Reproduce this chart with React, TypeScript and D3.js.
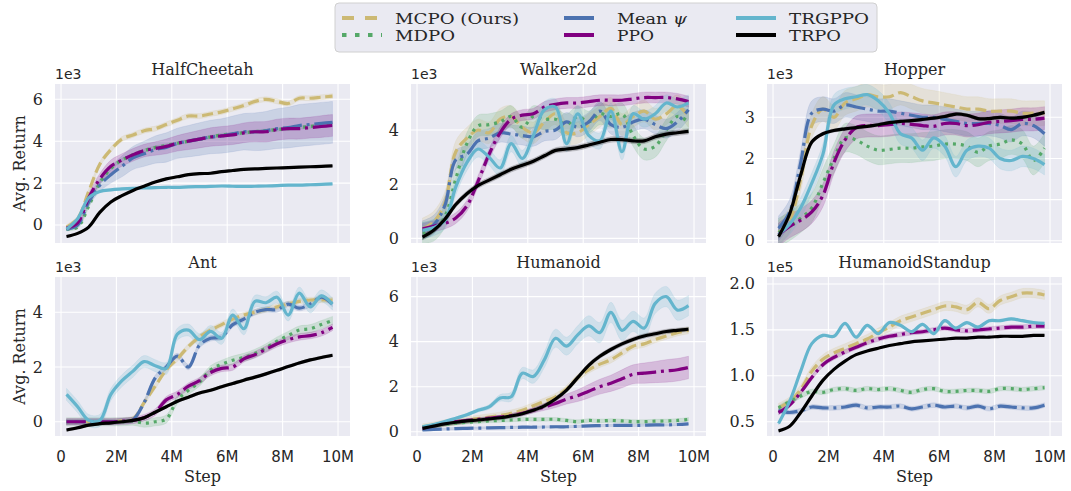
import React from "react";
import * as d3 from "d3";

// training steps (millions) at which every curve is sampled
const steps = [0.2, 0.6, 1.0, 1.4, 1.8, 2.2, 2.6, 3.0, 3.4, 3.8, 4.2, 4.6, 5.0, 5.4, 5.8, 6.2, 6.6, 7.0, 7.4, 7.8, 8.2, 8.6, 9.0, 9.4, 9.8];

const methods = ["MCPO (Ours)", "MDPO", "Mean ψ", "PPO", "TRGPPO", "TRPO"];
const methodColors = ["#ccb974", "#55a868", "#4c72b0", "#800080", "#64b5cd", "#000000"];
const methodDash = ["11.1,4.8", "3,4.95", "19.2,4.8,3,4.8", "19.2,4.8,3,4.8", "", ""];
const legendDash = ["12,11", "4.5,8.5", "30,11", "30,11", "", ""];
const legendTextWidth = [124, 60, 70, 37, 80, 52];

const envNames = ["HalfCheetah", "Walker2d", "Hopper", "Ant", "Humanoid", "HumanoidStandup"];
const envOffset = ["1e3", "1e3", "1e3", "1e3", "1e3", "1e5"];
const envYDomain = [[-0.86, 6.73], [-0.17, 5.7], [-0.055, 3.81], [-0.52, 5.29], [-0.19, 6.87], [0.344, 2.076]];
const envYTicks = [[0, 2, 4, 6], [0, 2, 4], [0, 1, 2, 3], [0, 2, 4], [0, 2, 4, 6], [0.5, 1.0, 1.5, 2.0]];
const xTicks = [0, 2, 4, 6, 8, 10];
const xTickLabels = ["0", "2M", "4M", "6M", "8M", "10M"];

// mean returns, in method order
const halfCheetah = [
  [-0.1, 0.3, 1.6, 2.9, 3.6, 4.1, 4.3, 4.5, 4.6, 4.8, 5.0, 5.2, 5.2, 5.3, 5.4, 5.55, 5.7, 5.9, 6.0, 5.9, 5.8, 6.05, 6.05, 6.1, 6.15],
  [-0.2, -0.1, 0.9, 2.0, 2.7, 3.1, 3.35, 3.55, 3.7, 3.8, 3.9, 4.0, 4.1, 4.2, 4.3, 4.35, 4.4, 4.45, 4.5, 4.55, 4.6, 4.65, 4.7, 4.75, 4.8],
  [-0.2, 0.0, 1.1, 1.9, 2.4, 2.8, 3.2, 3.4, 3.6, 3.7, 3.9, 4.0, 4.1, 4.2, 4.25, 4.35, 4.45, 4.45, 4.5, 4.6, 4.65, 4.75, 4.8, 4.85, 4.9],
  [-0.15, 0.1, 1.3, 2.2, 2.8, 3.1, 3.35, 3.55, 3.65, 3.75, 3.9, 4.0, 4.1, 4.2, 4.25, 4.3, 4.4, 4.45, 4.45, 4.55, 4.6, 4.6, 4.65, 4.7, 4.75],
  [-0.2, 0.3, 1.3, 1.6, 1.68, 1.72, 1.75, 1.77, 1.78, 1.8, 1.8, 1.82, 1.83, 1.84, 1.86, 1.85, 1.84, 1.85, 1.86, 1.88, 1.9, 1.9, 1.92, 1.94, 1.96],
  [-0.55, -0.4, -0.1, 0.6, 1.1, 1.4, 1.65, 1.85, 2.05, 2.2, 2.3, 2.4, 2.45, 2.47, 2.55, 2.6, 2.65, 2.68, 2.7, 2.72, 2.74, 2.76, 2.78, 2.8, 2.82],
];
const halfCheetahSd = [
  0.12, 0.08,
  [0.05, 0.1, 0.2, 0.3, 0.4, 0.5, 0.55, 0.6, 0.65, 0.7, 0.72, 0.75, 0.78, 0.8, 0.82, 0.85, 0.87, 0.9, 0.92, 0.95, 0.97, 1.0, 1.0, 1.0, 1.0],
  [0.05, 0.1, 0.2, 0.25, 0.3, 0.3, 0.3, 0.3, 0.32, 0.35, 0.37, 0.4, 0.42, 0.44, 0.45, 0.46, 0.47, 0.48, 0.49, 0.5, 0.5, 0.5, 0.5, 0.52, 0.52],
  0.05, 0.04,
];

const walker2d = [
  [0.35, 0.6, 1.3, 3.2, 3.7, 4.0, 3.9, 4.4, 4.5, 4.1, 3.9, 4.3, 4.6, 3.9, 3.9, 4.2, 4.5, 4.8, 4.2, 4.5, 4.7, 4.4, 4.6, 4.9, 4.5],
  [0.2, 0.3, 0.8, 2.2, 3.5, 4.15, 4.2, 4.3, 4.5, 4.1, 4.5, 4.4, 4.4, 4.2, 4.5, 4.3, 4.6, 4.5, 4.6, 3.8, 3.3, 3.4, 4.0, 4.5, 4.3],
  [0.3, 0.5, 1.2, 2.9, 3.1, 3.6, 3.7, 3.9, 3.85, 3.8, 3.75, 3.95, 4.0, 4.3, 4.1, 4.3, 4.7, 4.2, 4.1, 4.3, 4.4, 4.2, 4.05, 4.3, 4.75],
  [0.35, 0.45, 0.55, 0.75, 1.2, 2.1, 3.1, 3.9, 4.4, 4.55, 4.6, 4.85, 4.95, 5.0, 5.0, 5.05, 5.1, 5.1, 5.1, 5.15, 5.2, 5.2, 5.2, 5.15, 5.05],
  [0.3, 0.4, 0.65, 1.9, 2.8, 3.3, 3.0, 2.6, 3.5, 2.95, 3.8, 4.75, 4.85, 3.5, 4.6, 3.8, 3.6, 4.7, 3.2, 4.6, 4.4, 4.6, 5.0, 4.85, 5.0],
  [0.05, 0.3, 0.7, 1.25, 1.65, 1.95, 2.15, 2.35, 2.55, 2.7, 2.85, 3.05, 3.25, 3.3, 3.35, 3.45, 3.55, 3.65, 3.65, 3.6, 3.6, 3.75, 3.85, 3.9, 3.95],
];
const walker2dSd = [0.4, 0.4, 0.35, 0.2, 0.3, 0.1];

const hopper = [
  [0.2, 0.5, 1.5, 2.8, 3.2, 3.0, 3.35, 3.45, 3.55, 3.5, 3.5, 3.6, 3.5, 3.4, 3.35, 3.3, 3.25, 3.2, 3.2, 3.15, 3.15, 3.15, 3.1, 3.1, 3.1],
  [0.2, 0.35, 0.55, 0.8, 1.4, 2.0, 2.5, 2.45, 2.3, 2.2, 2.22, 2.25, 2.25, 2.28, 2.3, 2.35, 2.35, 2.3, 2.15, 2.3, 2.35, 2.45, 2.35, 1.95, 2.25],
  [0.3, 0.7, 1.9, 3.1, 3.2, 3.15, 3.3, 3.25, 3.2, 3.15, 3.15, 3.1, 3.05, 3.0, 3.0, 2.95, 2.9, 2.85, 2.85, 2.85, 2.8, 2.7, 2.85, 2.8, 2.6],
  [0.15, 0.35, 0.5, 0.7, 1.1, 1.9, 2.45, 2.75, 2.8, 2.8, 2.82, 2.85, 2.83, 2.8, 2.78, 2.85, 2.85, 2.8, 2.82, 2.88, 2.9, 2.92, 2.95, 2.95, 2.98],
  [0.15, 0.4, 0.8, 1.4, 2.1, 3.3, 3.45, 3.5, 3.55, 3.4, 3.1, 2.6, 2.5, 2.2, 2.5, 2.3, 1.8, 2.2, 2.3, 2.25, 2.0, 1.95, 2.05, 2.0, 1.85],
  [0.1, 0.65, 1.6, 2.4, 2.6, 2.68, 2.72, 2.75, 2.78, 2.82, 2.87, 2.9, 2.92, 2.95, 2.98, 3.02, 3.08, 3.05, 2.97, 2.97, 3.0, 2.98, 3.0, 3.05, 3.12],
];
const hopperSd = [0.3, 0.35, 0.3, 0.28, 0.25, 0.04];

const ant = [
  [0.0, 0.0, 0.0, 0.0, 0.0, 0.03, 0.1, 0.7, 1.3, 1.9, 2.3, 2.75, 3.1, 3.35, 3.55, 3.75, 3.9, 4.0, 4.1, 4.2, 4.3, 4.4, 4.45, 4.45, 4.45],
  [0.0, 0.0, 0.0, 0.0, 0.0, 0.0, 0.02, -0.05, 0.0, 0.1, 0.8, 1.15, 1.45, 1.9, 2.1, 2.25, 2.35, 2.5, 2.7, 2.95, 3.15, 3.35, 3.4, 3.55, 3.7],
  [0.0, 0.0, 0.0, 0.0, 0.0, 0.02, 0.08, 0.7, 1.6, 2.0, 2.4, 2.0, 2.8, 3.05, 3.1, 3.55, 3.75, 4.0, 4.1, 4.1, 4.3, 4.15, 4.3, 4.55, 4.3],
  [0.0, 0.0, 0.0, 0.0, 0.0, 0.02, 0.05, 0.15, 0.35, 0.8, 1.0, 1.3, 1.5, 1.8, 1.95, 2.0, 2.3, 2.45, 2.65, 2.85, 3.0, 3.1, 3.15, 3.25, 3.45],
  [1.0, 0.55, 0.05, 0.05, 1.0, 1.5, 1.85, 2.2, 2.05, 1.95, 3.2, 3.35, 3.0, 3.3, 3.05, 3.9, 3.4, 4.4, 4.35, 4.55, 3.9, 4.7, 4.2, 4.6, 4.3],
  [-0.3, -0.22, -0.12, -0.07, -0.04, 0.0, 0.05, 0.15, 0.35, 0.55, 0.75, 0.9, 1.05, 1.15, 1.28, 1.4, 1.52, 1.63, 1.75, 1.88, 2.02, 2.15, 2.26, 2.35, 2.43],
];
const antSd = [0.1, 0.15, 0.1, 0.12, 0.22, 0.05];

const humanoid = [
  [0.2, 0.28, 0.38, 0.45, 0.52, 0.58, 0.65, 0.72, 0.82, 0.95, 1.15, 1.35, 1.55, 1.9, 2.4, 2.75, 3.0, 3.2, 3.5, 3.8, 3.9, 4.1, 4.25, 4.4, 4.5],
  [0.2, 0.28, 0.33, 0.38, 0.42, 0.45, 0.48, 0.5, 0.52, 0.55, 0.55, 0.55, 0.55, 0.5, 0.45, 0.5, 0.48, 0.5, 0.48, 0.45, 0.45, 0.47, 0.48, 0.5, 0.55],
  [0.08, 0.1, 0.12, 0.14, 0.15, 0.16, 0.17, 0.18, 0.19, 0.2, 0.2, 0.21, 0.22, 0.22, 0.24, 0.26, 0.27, 0.28, 0.28, 0.28, 0.29, 0.3, 0.3, 0.32, 0.35],
  [0.15, 0.27, 0.37, 0.45, 0.5, 0.55, 0.6, 0.65, 0.72, 0.82, 0.95, 1.1, 1.25, 1.45, 1.6, 1.8, 2.0, 2.15, 2.35, 2.55, 2.6, 2.65, 2.7, 2.75, 2.85],
  [0.22, 0.32, 0.45, 0.6, 0.75, 0.95, 1.1, 1.5, 1.55, 2.6, 2.45, 3.2, 4.15, 3.8, 4.3, 4.7, 4.4, 5.3, 4.5, 4.9, 4.6, 5.7, 6.0, 5.4, 5.6],
  [0.15, 0.25, 0.35, 0.42, 0.48, 0.52, 0.57, 0.62, 0.7, 0.8, 0.95, 1.15, 1.45, 1.85, 2.4, 2.95, 3.35, 3.65, 3.9, 4.1, 4.25, 4.35, 4.45, 4.5, 4.55],
];
const humanoidSd = [
  0.15, 0.08, 0.05,
  [0.02, 0.03, 0.04, 0.05, 0.05, 0.06, 0.07, 0.08, 0.09, 0.1, 0.12, 0.15, 0.18, 0.22, 0.26, 0.3, 0.33, 0.36, 0.4, 0.42, 0.45, 0.47, 0.5, 0.5, 0.5],
  [0.03, 0.03, 0.04, 0.05, 0.06, 0.08, 0.1, 0.15, 0.2, 0.25, 0.3, 0.35, 0.4, 0.4, 0.4, 0.45, 0.45, 0.45, 0.45, 0.45, 0.45, 0.45, 0.45, 0.45, 0.45],
  0.1,
];

const humanoidStandup = [
  [0.65, 0.72, 0.85, 1.05, 1.18, 1.25, 1.3, 1.35, 1.4, 1.47, 1.53, 1.6, 1.64, 1.68, 1.72, 1.76, 1.75, 1.72, 1.8, 1.73, 1.82, 1.86, 1.9, 1.9, 1.88],
  [0.65, 0.72, 0.78, 0.83, 0.82, 0.85, 0.86, 0.84, 0.86, 0.85, 0.86, 0.84, 0.82, 0.85, 0.86, 0.83, 0.83, 0.84, 0.84, 0.83, 0.86, 0.86, 0.85, 0.86, 0.87],
  [0.62, 0.6, 0.62, 0.66, 0.65, 0.65, 0.66, 0.68, 0.65, 0.66, 0.66, 0.67, 0.64, 0.66, 0.68, 0.66, 0.67, 0.65, 0.67, 0.64, 0.67, 0.66, 0.65, 0.65, 0.68],
  [0.6, 0.68, 0.82, 0.98, 1.12, 1.2, 1.26, 1.31, 1.36, 1.4, 1.43, 1.45, 1.47, 1.48, 1.5, 1.52, 1.5, 1.49, 1.5, 1.51, 1.52, 1.53, 1.53, 1.54, 1.54],
  [0.48, 0.72, 1.05, 1.35, 1.44, 1.43, 1.57, 1.42, 1.55, 1.46, 1.58, 1.55, 1.48, 1.56, 1.46, 1.6, 1.52, 1.58, 1.53, 1.6, 1.6, 1.62, 1.6, 1.58, 1.57],
  [0.4, 0.45, 0.6, 0.78, 0.95, 1.07, 1.16, 1.23, 1.27, 1.3, 1.33, 1.35, 1.37, 1.38, 1.39, 1.4, 1.41, 1.41, 1.42, 1.42, 1.43, 1.43, 1.43, 1.44, 1.44],
];
const humanoidStandupSd = [0.05, 0.025, 0.025, 0.025, 0.015, 0.006];

const envData = [halfCheetah, walker2d, hopper, ant, humanoid, humanoidStandup];
const envSd = [halfCheetahSd, walker2dSd, hopperSd, antSd, humanoidSd, humanoidStandupSd];

const W = 1071;
const H = 491;
const colLeft = [55, 411, 767];
const rowTop = [84, 277];
const panelW = 295;
const panelH = 159;
const ink = "#262626";
const serif = "'DejaVu Serif', serif";
const sans = "'DejaVu Sans', sans-serif";

const x = d3.scaleLinear().domain([-0.217, 10.433]).range([0, panelW]);

function Panel({ idx }: { idx: number }) {
  const row = Math.floor(idx / 3);
  const col = idx % 3;
  const left = colLeft[col];
  const top = rowTop[row];
  const y = d3.scaleLinear().domain(envYDomain[idx]).range([panelH, 0]);
  const series = envData[idx];
  const sds = envSd[idx];
  const sdAt = (s: number | number[], i: number) => (Array.isArray(s) ? s[i] : s);
  const curve = d3.curveCatmullRom.alpha(0.5);
  const clipId = `clip-${idx}`;
  const fmt = idx === 5 ? d3.format(".1f") : d3.format("d");

  return (
    <g transform={`translate(${left},${top})`}>
      <defs>
        <clipPath id={clipId}>
          <rect width={panelW} height={panelH} />
        </clipPath>
      </defs>
      <rect width={panelW} height={panelH} fill="#eaeaf2" />
      {xTicks.map((t) => (
        <line key={`gx${t}`} x1={x(t)} x2={x(t)} y1={0} y2={panelH} stroke="#fff" strokeWidth={1.1} />
      ))}
      {envYTicks[idx].map((t) => (
        <line key={`gy${t}`} x1={0} x2={panelW} y1={y(t)} y2={y(t)} stroke="#fff" strokeWidth={1.1} />
      ))}
      <g clipPath={`url(#${clipId})`}>
        {series.map((vals, m) => {
          const sd = sds[m];
          const area = d3
            .area<number>()
            .x((_, i) => x(steps[i]))
            .y0((d, i) => y(d - sdAt(sd, i)))
            .y1((d, i) => y(d + sdAt(sd, i)))
            .curve(curve);
          return (
            <path key={`a${m}`} d={area(vals) || ""} fill={methodColors[m]} fillOpacity={0.2}
              stroke={methodColors[m]} strokeOpacity={0.15} strokeWidth={0.8} />
          );
        })}
        {series.map((vals, m) => {
          const line = d3
            .line<number>()
            .x((_, i) => x(steps[i]))
            .y((d) => y(d))
            .curve(curve);
          return (
            <path key={`l${m}`} d={line(vals) || ""} fill="none" stroke={methodColors[m]}
              strokeWidth={3.2} strokeDasharray={methodDash[m] || undefined} />
          );
        })}
      </g>
      {envYTicks[idx].map((t) => (
        <text key={`ty${t}`} x={-12} y={y(t)} textAnchor="end" dominantBaseline="central"
          fontFamily={serif} fontSize={16} fill={ink}>
          {fmt(t)}
        </text>
      ))}
      {row === 1 &&
        xTicks.map((t, i) => (
          <text key={`tx${t}`} x={x(t)} y={panelH + 26} textAnchor="middle"
            fontFamily={sans} fontSize={15} fill={ink}>
            {xTickLabels[i]}
          </text>
        ))}
      {row === 1 && (
        <text x={panelW / 2} y={panelH + 46} textAnchor="middle" fontFamily={serif} fontSize={16} fill={ink}>
          Step
        </text>
      )}
      <text x={panelW / 2} y={-9} textAnchor="middle" fontFamily={serif} fontSize={16} fill={ink}>
        {envNames[idx]}
      </text>
      <text x={0} y={-5} fontFamily={sans} fontSize={14} fill={ink}>
        {envOffset[idx]}
      </text>
      {col === 0 && (
        <text transform={`translate(${25 - left},${panelH / 2}) rotate(-90)`} textAnchor="middle"
          fontFamily={serif} fontSize={16} fill={ink}>
          Avg. Return
        </text>
      )}
    </g>
  );
}

const legendCols = [342, 564, 736];
const legendRows = [18, 35];

function Legend() {
  return (
    <g>
      <rect x={335} y={3} width={542} height={49} rx={4} fill="#eaeaf2" stroke="#d0d0d0" strokeWidth={1} />
      {methods.map((name, m) => {
        const cx = legendCols[Math.floor(m / 2)];
        const cy = legendRows[m % 2];
        return (
          <g key={name}>
            <line x1={cx} x2={cx + 40} y1={cy} y2={cy} stroke={methodColors[m]} strokeWidth={4}
              strokeDasharray={legendDash[m] || undefined} />
            <text x={cx + 53} y={cy + 6} fontFamily={serif} fontSize={14.5} fill={ink}
              textLength={legendTextWidth[m]} lengthAdjust="spacingAndGlyphs">
              {name === "Mean ψ" ? (
                <>
                  Mean <tspan fontStyle="italic">ψ</tspan>
                </>
              ) : (
                name
              )}
            </text>
          </g>
        );
      })}
    </g>
  );
}

export default function App() {
  return (
    <svg width={W} height={H} style={{ position: "absolute", left: 0, top: 0, background: "#fff" }}>
      <rect width={W} height={H} fill="#fff" />
      {envNames.map((_, i) => (
        <Panel key={i} idx={i} />
      ))}
      <Legend />
    </svg>
  );
}
